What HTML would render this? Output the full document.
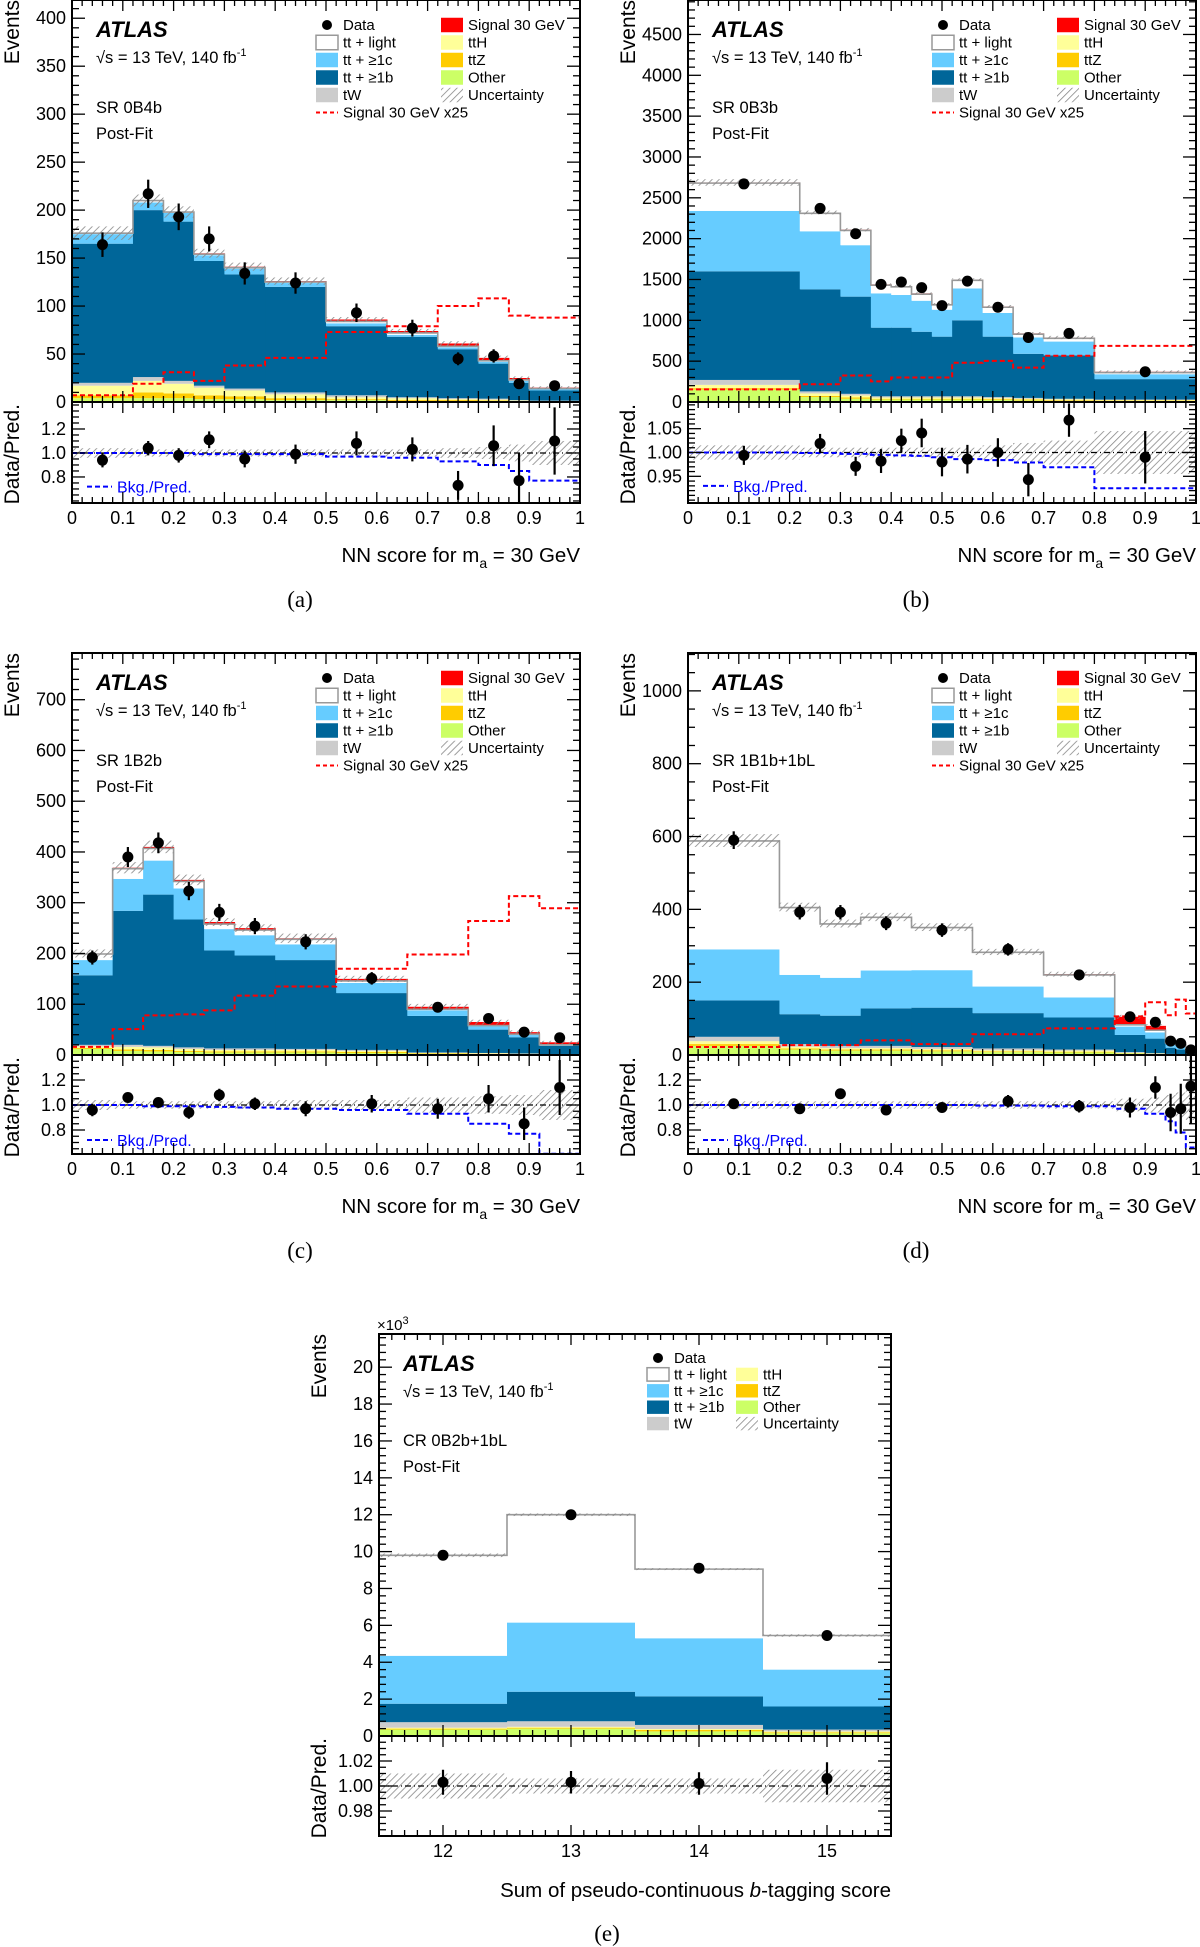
<!DOCTYPE html>
<html><head><meta charset="utf-8"><style>
html,body{margin:0;padding:0;background:#fff}
svg{display:block}
text{font-family:"Liberation Sans",sans-serif;fill:#000}
</style></head><body>
<svg id="fig" xmlns="http://www.w3.org/2000/svg" width="1200" height="1947" viewBox="0 0 1200 1947">
<defs>
<pattern id="hatch" patternUnits="userSpaceOnUse" width="5" height="5" patternTransform="rotate(45)">
<line x1="0" y1="0" x2="0" y2="5" stroke="#888" stroke-width="1.6"/>
</pattern>
</defs>
</svg>
<script>
// ---------- Panel (a) SR 0B4b ----------
const aEdges=[0,0.12,0.18,0.24,0.30,0.38,0.50,0.62,0.72,0.80,0.86,0.90,1.0];
const aOther=[4,4,4,3,3,2,2,1,1,1,0.5,0.5];
const aTtZ=[3,6,5,4,3,2,1,1,1,0.5,0.5,0.3];
const aTtH=[10,12,10,8,6,4,2,2,1,1,0.5,0.3];
const aTW=[3,4,3,2,2,2,2,1,1,1,0.5,0.3];
const aTtb=[145,174,166,130,119,110,72,63,51,36.5,18,10.6];
const aTtc=[10,8,9,6,6,4,3,2,2,2,2,2];
const aTtl=[1,2,1,1,1,1,2,2,1,1,1,0];
const aSig=[0,0,0,1,1,1,2,2,3,3,2,1];
const aSig25=[7,19,31,22,38,46,73,79,100,108,90,88];
const aDataX=[0.06,0.15,0.21,0.27,0.34,0.44,0.56,0.67,0.76,0.83,0.88,0.95];
const aData=[164,217,193,170,134,124,93,77,45,48,19,17];
const aRatio=[0.94,1.04,0.98,1.11,0.95,0.99,1.08,1.03,0.73,1.06,0.77,1.10];
const aRatioErr=[0.06,0.06,0.06,0.07,0.07,0.08,0.10,0.10,0.12,0.17,0.23,0.28];
const aBkgRatio=[1,1,1,0.99,0.99,0.99,0.97,0.96,0.93,0.90,0.85,0.77];
const aUnc=[0.04,0.03,0.03,0.03,0.03,0.03,0.03,0.03,0.04,0.05,0.07,0.1];
const aYTicks=[0,50,100,150,200,250,300,350,400];
const aRTicks=[0.8,1.0,1.2];
const aRLabels=["0.8","1.0","1.2"];
// ---------- Panel (b) SR 0B3b ----------
const bEdges=[0,0.22,0.30,0.36,0.40,0.44,0.48,0.52,0.58,0.64,0.70,0.80,1.0];
const bOther=[150,60,40,30,30,30,30,30,25,20,15,12];
const bTtZ=[20,15,15,10,10,10,10,10,10,10,8,5];
const bTtH=[40,30,25,15,15,15,15,15,12,10,10,8];
const bTW=[60,25,20,15,15,15,15,15,13,10,7,5];
const bTtb=[1330,1250,1190,840,840,790,730,930,740,540,530,250];
const bTtc=[740,710,630,420,400,380,330,390,290,200,170,60];
const bTtl=[340,220,180,100,100,80,60,100,70,40,40,20];
const bSig=[8,10,10,10,10,10,10,10,10,10,10,10];
const bSig25=[155,218,324,252,300,300,300,480,503,421,566,687];
const bDataX=[0.11,0.26,0.33,0.38,0.42,0.46,0.50,0.55,0.61,0.67,0.75,0.90];
const bData=[2670,2370,2060,1440,1470,1400,1180,1480,1160,790,840,370];
const bRatio=[0.994,1.019,0.971,0.982,1.025,1.041,0.980,0.986,1.0,0.943,1.068,0.990];
const bRatioErr=[0.02,0.02,0.02,0.025,0.025,0.03,0.03,0.03,0.03,0.035,0.035,0.055];
const bBkgRatio=[1.0,0.999,0.997,0.995,0.994,0.993,0.99,0.986,0.984,0.979,0.969,0.925];
const bUnc=[0.015,0.01,0.01,0.01,0.01,0.01,0.01,0.01,0.015,0.02,0.025,0.045];
const bYTicks=[0,500,1000,1500,2000,2500,3000,3500,4000,4500];
const bRTicks=[0.95,1.0,1.05];
const bRLabels=["0.95","1.00","1.05"];
// ---------- Panel (c) SR 1B2b ----------
const cEdges=[0,0.08,0.14,0.20,0.26,0.32,0.40,0.52,0.66,0.78,0.86,0.92,1.0];
const cOther=[12,8,7,6,5,5,5,4,2,1.5,1,0.5];
const cTtZ=[2,3,3,2,2,2,2,2,1,1,0.5,0.5];
const cTtH=[3,5,5,4,3,3,3,2,1,1,1,0.5];
const cTW=[3,4,3,3,3,3,2,2,1,0.5,0.5,0.5];
const cTtb=[137,264,298,252,193,183,175,112,72,46,32,16];
const cTtc=[30,63,67,61,42,40,31,20,11,7,5,2];
const cTtl=[12,20,24,14,10,10,10,4,2,1,1,0];
const cSig=[1,2,3,3,4,4,2,4,5,7,4,5];
const cSig25=[16,51,78,80,88,117,135,170,198,264,313,289];
const cDataX=[0.04,0.11,0.17,0.23,0.29,0.36,0.46,0.59,0.72,0.82,0.89,0.96];
const cData=[192,390,418,323,281,254,223,151,94,72,45,34];
const cRatio=[0.96,1.06,1.02,0.94,1.08,1.01,0.97,1.01,0.97,1.05,0.85,1.14];
const cRatioErr=[0.05,0.04,0.04,0.05,0.05,0.05,0.06,0.07,0.08,0.11,0.13,0.22];
const cBkgRatio=[1.0,1.0,0.99,0.99,0.985,0.98,0.97,0.96,0.93,0.85,0.77,0.61];
const cUnc=[0.04,0.03,0.03,0.03,0.03,0.03,0.04,0.04,0.06,0.07,0.08,0.12];
const cYTicks=[0,100,200,300,400,500,600,700];
const cRTicks=[0.8,1.0,1.2];
const cRLabels=["0.8","1.0","1.2"];
// ---------- Panel (d) SR 1B1b+1bL ----------
const dEdges=[0,0.18,0.26,0.34,0.44,0.56,0.70,0.84,0.90,0.94,0.96,0.98,1.0];
const dOther=[25,15,12,12,10,8,7,4,2,1.5,1,0.5];
const dTtZ=[5,3,3,3,3,2,2,1,1,0.5,0.3,0.2];
const dTtH=[8,5,4,4,4,3,3,1,1,0.5,0.4,0.2];
const dTW=[12,7,6,6,5,5,3,2,1,0.5,0.3,0.1];
const dTtb=[100,82,83,103,108,97,88,47,40,17,13,7];
const dTtc=[140,108,104,104,103,73,55,23,17,10,10,4];
const dTtl=[298,185,148,146,117,94,62,5,6,3,3,1];
const dSig=[1,1,1,1,1,1,2,22,12,3,3,2];
const dSig25=[22,27,27,40,30,57,73,106,145,109,152,114];
const dDataX=[0.09,0.22,0.30,0.39,0.50,0.63,0.77,0.87,0.92,0.95,0.97,0.99];
const dData=[590,392,392,362,343,290,220,105,90,38,32,14];
const dRatio=[1.01,0.97,1.09,0.96,0.98,1.03,0.99,0.98,1.14,0.94,0.97,1.15];
const dRatioErr=[0.03,0.04,0.04,0.04,0.04,0.05,0.05,0.08,0.09,0.15,0.2,0.3];
const dBkgRatio=[1.0,1.0,1.0,1.0,1.0,0.995,0.99,0.97,0.93,0.87,0.78,0.66];
const dUnc=[0.03,0.03,0.03,0.03,0.03,0.03,0.03,0.05,0.06,0.08,0.1,0.12];
const dYTicks=[0,200,400,600,800,1000];
const dRTicks=[0.8,1.0,1.2];
const dRLabels=["0.8","1.0","1.2"];
// ---------- Panel (e) CR 0B2b+1bL (x10^3) ----------
const eEdges=[11.5,12.5,13.5,14.5,15.5];
const eOther=[0.35,0.4,0.25,0.15];
const eTtZ=[0.05,0.05,0.08,0.05];
const eTtH=[0.05,0.05,0.05,0.05];
const eTW=[0.3,0.3,0.22,0.1];
const eTtb=[1.0,1.6,1.55,1.25];
const eTtc=[2.6,3.75,3.15,2.0];
const eTtl=[5.45,5.85,3.75,1.85];
const eSig=[0,0,0,0];
const eDataX=[12,13,14,15];
const eData=[9.8,12.0,9.1,5.45];
const eRatio=[1.003,1.003,1.002,1.006];
const eRatioErr=[0.01,0.009,0.009,0.013];
const eUnc=[0.01,0.006,0.006,0.013];
const eYTicks=[0,2,4,6,8,10,12,14,16,18,20];
const eRTicks=[0.98,1.0,1.02];
const eRLabels=["0.98","1.00","1.02"];

const NS="http://www.w3.org/2000/svg";
const svg=document.getElementById('fig');
const COLORS=["#ccff66","#ffcc00","#ffff99","#cccccc","#006699","#66ccff","#ffffff","#ff0000"];
function mk(tag,attrs,parent){const e=document.createElementNS(NS,tag);for(const k in attrs)e.setAttribute(k,attrs[k]);(parent||svg).appendChild(e);return e;}
function txt(parent,x,y,s,size,extra){const t=mk('text',Object.assign({x:x,y:y,'font-size':size},extra||{}),parent);t.textContent=s;return t;}

function drawPanel(P){
  const g=mk('g',{});
  
  
  const W=P.x1-P.x0;
  const X=v=>P.x0+(v-P.xmin)/(P.xmax-P.xmin)*W;
  const Y=v=>P.zero-v/P.ymax*(P.zero-P.top);
  const R=r=>P.zero+(P.rmax-r)/(P.rmax-P.rmin)*(P.rbot-P.zero);
  const cid='clip-'+P.name;
  const cp=mk('clipPath',{id:cid},g);mk('rect',{x:P.x0,y:P.top,width:W,height:P.zero-P.top},cp);
  const cid2='clipr-'+P.name;
  const cp2=mk('clipPath',{id:cid2},g);mk('rect',{x:P.x0,y:P.zero,width:W,height:P.rbot-P.zero},cp2);
  const main=mk('g',{'clip-path':'url(#'+cid+')'},g);
  const n=P.edges.length-1;
  const totals=[];
  for(let i=0;i<n;i++){
    let cum=0;
    const xa=X(P.edges[i]),xb=X(P.edges[i+1]);
    P.comps.forEach((arr,k)=>{
      const v=arr[i];
      const r=mk('rect',{x:xa,y:Y(cum+v),width:xb-xa+0.5,height:Math.max(0,Y(cum)-Y(cum+v)),fill:COLORS[k]},main);
      
      
      cum+=v;
    });
    totals.push(cum);
  }
  let bk=[];for(let i=0;i<n;i++){let s=0;for(let k=0;k<7;k++)s+=P.comps[k][i];bk.push(s);}
  let d='';for(let i=0;i<n;i++){d+=(i?'L':'M')+X(P.edges[i])+','+Y(bk[i])+'L'+X(P.edges[i+1])+','+Y(bk[i]);}
  d+='L'+X(P.edges[n])+','+Y(0);
  const ol=mk('path',{d:'M'+X(P.edges[0])+','+Y(0)+'L'+d.slice(1),fill:'none',stroke:'#999','stroke-width':1.6},main);
  
  
  for(let i=0;i<n;i++){
    const xa=X(P.edges[i]),xb=X(P.edges[i+1]);
    const t=totals[i];
    const h=mk('rect',{x:xa,y:Y(t*(1+P.unc[i])),width:xb-xa,height:Math.max(2,Y(t*(1-P.unc[i]))-Y(t*(1+P.unc[i]))),fill:'url(#hatch)'},main);
    
    
  }
  if(P.sig25){
    let s='';for(let i=0;i<n;i++){s+=(i?'L':'M')+X(P.edges[i])+','+Y(P.sig25[i])+'L'+X(P.edges[i+1])+','+Y(P.sig25[i]);}
    const sp=mk('path',{d:s,fill:'none',stroke:'#ff0000','stroke-width':2,'stroke-dasharray':'5,3'},main);
    
    
  }
  for(let i=0;i<P.data.length;i++){
    const v=P.data[i];const e=Math.sqrt(v*P.scale)/P.scale;
    const l=mk('line',{x1:X(P.dataX[i]),x2:X(P.dataX[i]),y1:Y(v+e),y2:Y(v-e),stroke:'#000','stroke-width':2.2},g);
    
    
    const c=mk('circle',{cx:X(P.dataX[i]),cy:Y(v),r:5.5,fill:'#000'},g);
    
    
  }
  const rg=mk('g',{'clip-path':'url(#'+cid2+')'},g);
  for(let i=0;i<n;i++){
    const xa=X(P.edges[i]),xb=X(P.edges[i+1]);
    const h=mk('rect',{x:xa,y:R(1+P.unc[i]),width:xb-xa,height:R(1-P.unc[i])-R(1+P.unc[i]),fill:'url(#hatch)'},rg);
    
    
  }
  const one=mk('line',{x1:P.x0,x2:P.x1,y1:R(1),y2:R(1),stroke:'#000','stroke-width':1.2,'stroke-dasharray':'6,3,1,3'},rg);
  
  
  if(P.bkg){
    let s='';for(let i=0;i<n;i++){s+=(i?'L':'M')+X(P.edges[i])+','+R(P.bkg[i])+'L'+X(P.edges[i+1])+','+R(P.bkg[i]);}
    const bp=mk('path',{d:s,fill:'none',stroke:'#0000ff','stroke-width':2,'stroke-dasharray':'5,3'},rg);
    
    
    const ly=R(P.rLegend);
    mk('line',{x1:P.x0+15,x2:P.x0+40,y1:ly,y2:ly,stroke:'#0000ff','stroke-width':2,'stroke-dasharray':'5,3'},g);
    const bt=txt(g,P.x0+45,ly+6,'Bkg./Pred.',16,{fill:'#0000ff',style:'fill:#0000ff'});
    
    
  }
  for(let i=0;i<P.ratio.length;i++){
    const x=X(P.dataX[i]);
    mk('line',{x1:x,x2:x,y1:R(P.ratio[i]+P.ratioErr[i]),y2:R(P.ratio[i]-P.ratioErr[i]),stroke:'#000','stroke-width':2.2},rg);
    const c=mk('circle',{cx:x,cy:R(P.ratio[i]),r:5.5,fill:'#000'},rg);
    
    
  }
  mk('rect',{x:P.x0,y:P.top,width:W,height:P.rbot-P.top,fill:'none',stroke:'#000','stroke-width':2},g);
  mk('line',{x1:P.x0,x2:P.x1,y1:P.zero,y2:P.zero,stroke:'#000','stroke-width':2},g);
  for(let v=P.xmin;v<=P.xmax+1e-9;v+=P.xMinor){
    const vv=Math.round(v*1000)/1000;
    const isMaj=Math.abs(vv/P.xMajor-Math.round(vv/P.xMajor))<1e-6;
    const L=isMaj?11:6;const x=X(vv);
    mk('line',{x1:x,x2:x,y1:P.zero-L,y2:P.zero+L,stroke:'#000','stroke-width':1.3},g);
    mk('line',{x1:x,x2:x,y1:P.rbot,y2:P.rbot-L,stroke:'#000','stroke-width':1.3},g);
    mk('line',{x1:x,x2:x,y1:P.top,y2:P.top+L,stroke:'#000','stroke-width':1.3},g);
  }
  P.xLabels.forEach((s,i)=>{
    const t=txt(g,X(P.xLabelVals[i]),P.rbot+21,s,18,{'text-anchor':'middle'});
    
    
  });
  for(let v=0;v<=P.ymax+1e-9;v+=P.yMinor){
    const isMaj=Math.abs(v/P.yMajor-Math.round(v/P.yMajor))<1e-6;
    const L=isMaj?13:7;const y=Y(v);
    if(y<P.top-0.5)continue;
    mk('line',{x1:P.x0,x2:P.x0+L,y1:y,y2:y,stroke:'#000','stroke-width':1.3},g);
    mk('line',{x1:P.x1,x2:P.x1-L,y1:y,y2:y,stroke:'#000','stroke-width':1.3},g);
  }
  P.yTicks.forEach(v=>{
    const t=txt(g,P.x0-6,Y(v)+6,String(v),18,{'text-anchor':'end'});
    
    
  });
  const rstep=P.rMinor;
  for(let v=Math.ceil(P.rmin/rstep)*rstep;v<=P.rmax;v+=rstep){
    const vv=Math.round(v*10000)/10000;
    const isMaj=P.rTicks.some(t=>Math.abs(t-vv)<1e-6);
    const L=isMaj?13:7;const y=R(vv);
    mk('line',{x1:P.x0,x2:P.x0+L,y1:y,y2:y,stroke:'#000','stroke-width':1.3},g);
    mk('line',{x1:P.x1,x2:P.x1-L,y1:y,y2:y,stroke:'#000','stroke-width':1.3},g);
  }
  P.rTicks.forEach((v,i)=>{
    const t=txt(g,P.x0-6,R(v)+6,P.rLabels[i],18,{'text-anchor':'end'});
    
    
  });
  const ev=txt(g,0,0,'Events',21,{'text-anchor':'end',transform:'translate('+(P.x0-53)+','+(P.top)+') rotate(-90)'});
  
  
  const dp=txt(g,0,0,'Data/Pred.',21,{'text-anchor':'end',transform:'translate('+(P.x0-53)+','+(P.zero+2)+') rotate(-90)'});
  
  
  const xt=mk('text',{x:P.x1,y:P.rbot+P.xTitleDy,'font-size':20.5,'text-anchor':'end'},g);
  
  
  xt.innerHTML=P.xTitle;
  const cap=mk('text',{x:P.x0+228,y:P.rbot+P.capDy,'font-size':23,'text-anchor':'middle',style:'font-family:"Liberation Serif",serif'},g);
  cap.textContent=P.caption;
  
  
  const at=txt(g,P.x0+24,P.top+37,'ATLAS',22,{'font-weight':'bold','font-style':'italic'});
  
  
  const sq=mk('text',{x:P.x0+24,y:P.top+63,'font-size':16.5},g);
  sq.innerHTML='√s = 13 TeV, 140 fb<tspan dy="-7" font-size="11">-1</tspan>';
  
  
  const rl=txt(g,P.x0+24,P.top+P.regDy,P.region,16.5);
  
  
  const pf=txt(g,P.x0+24,P.top+P.regDy+26,'Post-Fit',16.5);
  
  
  const lg=mk('g',{},g);
  
  
  const L=P.leg;
  const rowY=j=>P.top+L.y0+j*L.dy;
  const box=(x,j,fill,stroke)=>mk('rect',{x:x,y:rowY(j)-L.dy/2+1.5,width:22,height:L.dy-3,fill:fill,stroke:stroke||'none','stroke-width':1.5},lg);
  mk('circle',{cx:P.x0+L.c1+11,cy:rowY(0),r:5,fill:'#000'},lg);
  const c1=['Data','tt + light','tt + ≥1c','tt + ≥1b','tW'];
  box(P.x0+L.c1,1,'#fff','#999');box(P.x0+L.c1,2,'#66ccff');box(P.x0+L.c1,3,'#006699');box(P.x0+L.c1,4,'#cccccc');
  c1.forEach((s,j)=>{const t=txt(lg,P.x0+L.c1+27,rowY(j)+5,s,L.fs);});
  let c2=P.sig25?['Signal 30 GeV','ttH','ttZ','Other','Uncertainty']:['ttH','ttZ','Other','Uncertainty'];
  const col2=P.sig25?['#ff0000','#ffff99','#ffcc00','#ccff66','url(#hatch)']:['#ffff99','#ffcc00','#ccff66','url(#hatch)'];
  const off=P.sig25?0:1;
  c2.forEach((s,j)=>{box(P.x0+L.c2,j+off,col2[j]);const t=txt(lg,P.x0+L.c2+27,rowY(j+off)+5,s,L.fs);});
  if(P.sig25){
    mk('line',{x1:P.x0+L.c1,x2:P.x0+L.c1+22,y1:rowY(5),y2:rowY(5),stroke:'#ff0000','stroke-width':2,'stroke-dasharray':'4,3'},lg);
    const t=txt(lg,P.x0+L.c1+27,rowY(5)+5,'Signal 30 GeV x25',L.fs);
    
    
  }
  if(P.expo){
    const t=mk('text',{x:P.x0-2,y:P.top-4,'font-size':15},g);
    t.innerHTML='×10<tspan dy="-6" font-size="11">3</tspan>';
    
    
  }
}

const nnX=[0,0.1,0.2,0.3,0.4,0.5,0.6,0.7,0.8,0.9,1];
const nnXL=["0","0.1","0.2","0.3","0.4","0.5","0.6","0.7","0.8","0.9","1"];
const nnTitle='NN score for m<tspan dy="6" font-size="14">a</tspan><tspan dy="-6"> = 30 GeV</tspan>';
const legA={c1:244,c2:369,y0:25,dy:17.5,fs:15};
function base(name,x0,x1,top,zero,rbot){return {name,x0,x1,top,zero,rbot,xmin:0,xmax:1,xMinor:0.02,xMajor:0.1,xLabels:nnXL,xLabelVals:nnX,xTitle:nnTitle,xTitleDy:59,capDy:104,regDy:113,leg:legA,scale:1};}

drawPanel(Object.assign(base('panel-a-sr-0b4b',72,580,0,402,503),{ymax:419,yMajor:50,yMinor:10,yTicks:aYTicks,rmin:0.583,rmax:1.425,rMinor:0.05,rTicks:aRTicks,rLabels:aRLabels,rLegend:0.72,
 edges:aEdges,comps:[aOther,aTtZ,aTtH,aTW,aTtb,aTtc,aTtl,aSig],sig25:aSig25,dataX:aDataX,data:aData,ratio:aRatio,ratioErr:aRatioErr,bkg:aBkgRatio,unc:aUnc,region:'SR 0B4b',caption:'(a)'}));
drawPanel(Object.assign(base('panel-b-sr-0b3b',688,1196,0,402,503),{ymax:4922,yMajor:500,yMinor:100,yTicks:bYTicks,rmin:0.894,rmax:1.106,rMinor:0.01,rTicks:bRTicks,rLabels:bRLabels,rLegend:0.93,
 edges:bEdges,comps:[bOther,bTtZ,bTtH,bTW,bTtb,bTtc,bTtl,bSig],sig25:bSig25,dataX:bDataX,data:bData,ratio:bRatio,ratioErr:bRatioErr,bkg:bBkgRatio,unc:bUnc,region:'SR 0B3b',caption:'(b)'}));
drawPanel(Object.assign(base('panel-c-sr-1b2b',72,580,653,1055,1154),{ymax:792,yMajor:100,yMinor:20,yTicks:cYTicks,rmin:0.608,rmax:1.40,rMinor:0.05,rTicks:cRTicks,rLabels:cRLabels,rLegend:0.72,
 edges:cEdges,comps:[cOther,cTtZ,cTtH,cTW,cTtb,cTtc,cTtl,cSig],sig25:cSig25,dataX:cDataX,data:cData,ratio:cRatio,ratioErr:cRatioErr,bkg:cBkgRatio,unc:cUnc,region:'SR 1B2b',caption:'(c)'}));
drawPanel(Object.assign(base('panel-d-sr-1b1b-1bl',688,1196,653,1055,1154),{ymax:1104,yMajor:200,yMinor:50,yTicks:dYTicks,rmin:0.608,rmax:1.40,rMinor:0.05,rTicks:dRTicks,rLabels:dRLabels,rLegend:0.72,
 edges:dEdges,comps:[dOther,dTtZ,dTtH,dTW,dTtb,dTtc,dTtl,dSig],sig25:dSig25,dataX:dDataX,data:dData,ratio:dRatio,ratioErr:dRatioErr,bkg:dBkgRatio,unc:dUnc,region:'SR 1B1b+1bL',caption:'(d)'}));
drawPanel({name:'panel-e-cr-0b2b-1bl',x0:379,x1:891,top:1334,zero:1736,rbot:1836,xmin:11.5,xmax:15.5,xMinor:0.1,xMajor:1,xLabels:["12","13","14","15"],xLabelVals:[12,13,14,15],
 xTitle:'Sum of pseudo-continuous <tspan font-style="italic">b</tspan>-tagging score',xTitleDy:61,capDy:105,regDy:112,leg:{c1:268,c2:357,y0:24,dy:16.4,fs:15},scale:1000,expo:true,
 ymax:21.8,yMajor:2,yMinor:0.4,yTicks:eYTicks,rmin:0.96,rmax:1.04,rMinor:0.005,rTicks:eRTicks,rLabels:eRLabels,
 edges:eEdges,comps:[eOther,eTtZ,eTtH,eTW,eTtb,eTtc,eTtl,eSig],sig25:null,dataX:eDataX,data:eData,ratio:eRatio,ratioErr:eRatioErr,bkg:null,unc:eUnc,region:'CR 0B2b+1bL',caption:'(e)'});
</script>
</body></html>
